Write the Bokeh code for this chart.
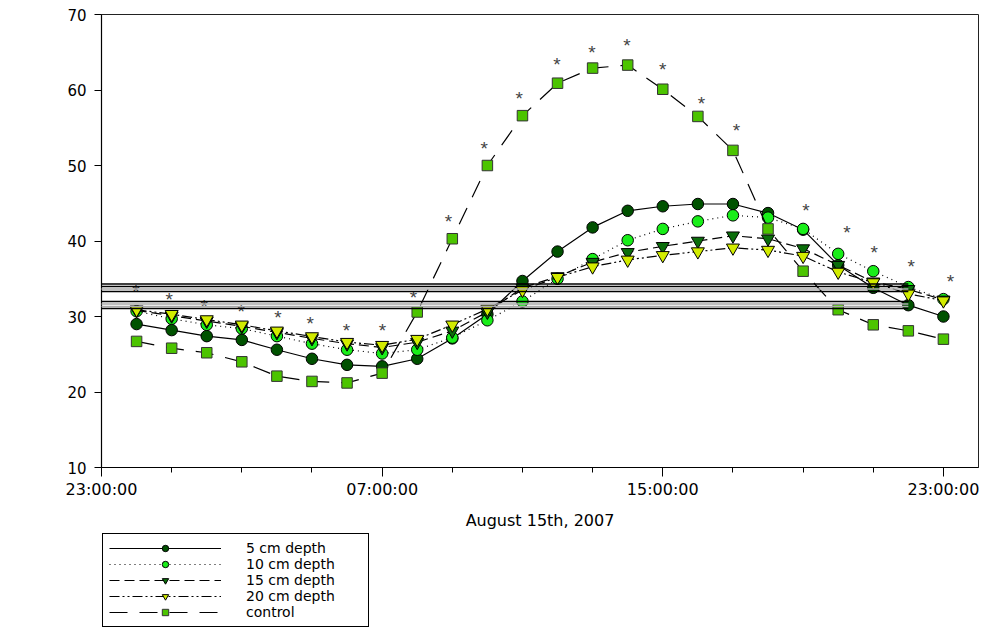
from bokeh.plotting import figure
from bokeh.layouts import column
from bokeh.models import (ColumnDataSource, FixedTicker, Legend, LegendItem, Arrow, Range1d)
from bokeh.core.properties import value
from bokeh.embed import file_html
from bokeh.resources import INLINE

# ---- data (hours after 23:00 of the previous day) ----
hours = list(range(1, 25))
depth5 = [29.0, 28.2, 27.4, 26.9, 25.6, 24.4, 23.6, 23.4, 24.4, 27.1, 30.3, 34.7,
          38.6, 41.8, 44.0, 44.6, 44.9, 44.9, 43.7, 41.5, 36.8, 33.8, 31.5, 30.0]
depth10 = [30.7, 29.7, 28.9, 28.4, 27.4, 26.4, 25.6, 25.1, 25.6, 27.2, 29.5, 32.0,
           35.0, 37.6, 40.1, 41.6, 42.6, 43.4, 43.1, 41.6, 38.3, 36.0, 33.9, 32.3]
depth15 = [30.8, 30.1, 29.4, 28.7, 27.9, 27.1, 26.4, 25.9, 26.6, 28.1, 30.6, 33.8,
           35.3, 37.2, 38.5, 39.3, 40.0, 40.7, 40.3, 39.0, 36.8, 34.6, 33.6, 32.2]
depth20 = [30.9, 30.3, 29.6, 28.9, 28.1, 27.35, 26.6, 26.2, 27.0, 28.9, 31.0, 33.5,
           35.2, 36.6, 37.5, 38.1, 38.6, 39.1, 38.8, 38.0, 35.9, 34.5, 33.0, 32.1]
control = [26.7, 25.8, 25.2, 24.0, 22.1, 21.4, 21.2, 22.5, 30.6, 40.3, 50.0, 56.6,
           60.9, 62.9, 63.3, 60.1, 56.5, 52.0, 41.6, 36.0, 30.9, 28.9, 28.1, 27.0]

star_x = [0.98, 1.93, 2.93, 3.98, 5.03, 5.95, 6.98, 8.01, 8.89, 9.89, 10.91, 11.91,
          12.98, 13.98, 14.98, 16.0, 17.1, 18.1, 20.08, 21.25, 22.03, 23.08, 24.2]
star_y = [33.9, 32.8, 31.9, 31.2, 30.4, 29.6, 28.7, 28.7, 33.1, 43.1, 52.8, 59.4,
          63.9, 65.5, 66.4, 63.2, 58.8, 55.1, 44.6, 41.6, 39.0, 37.2, 35.1]

x_major = [0, 8, 16, 24]
x_labels = ["23:00:00", "07:00:00", "15:00:00", "23:00:00"]
x_minor = [2, 4, 6, 10, 12, 14, 18, 20, 22]
y_ticks = [10, 20, 30, 40, 50, 60, 70]

# scanning artefact lines across the plot
art_y = [34.3, 33.97, 33.64, 33.31, 31.99, 31.66, 31.32, 31.06]
art_color = ["black", "black", "#aaaaaa", "black", "black", "#aaaaaa", "#aaaaaa", "black"]
art_x0 = -2.55
art_x1 = 23.0

series_labels = ["5 cm depth", "10 cm depth", "15 cm depth", "20 cm depth", "control"]

FONT = "DejaVu Sans"

p = figure(frame_width=877, frame_height=453, output_backend="svg", toolbar_location=None,
           x_range=Range1d(0, 25), y_range=Range1d(10, 70),
           min_border_left=101, min_border_right=8, min_border_top=14, min_border_bottom=40)
p.xgrid.visible = False
p.ygrid.visible = False
p.outline_line_color = "#222222"
p.outline_line_width = 1
p.background_fill_color = "white"
p.border_fill_color = "white"

# axes
p.xaxis.ticker = FixedTicker(ticks=x_major, minor_ticks=x_minor)
p.xaxis.major_label_overrides = {t: l for t, l in zip(x_major, x_labels)}
p.yaxis.ticker = FixedTicker(ticks=y_ticks)
for ax in (p.xaxis[0], p.yaxis[0]):
    ax.axis_line_color = "black"
    ax.axis_line_width = 1.2
    ax.major_tick_line_color = "black"
    ax.minor_tick_line_color = "black"
    ax.major_label_text_font = FONT
    ax.major_label_text_font_size = "15px"
    ax.major_label_text_color = "black"
p.xaxis.major_label_text_font_size = "16px"
p.xaxis.major_tick_out = 9
p.xaxis.major_tick_in = 0
p.xaxis.minor_tick_out = 5
p.xaxis.minor_tick_in = 0
p.xaxis.major_label_standoff = 3
p.yaxis.major_tick_out = 7
p.yaxis.major_tick_in = 0
p.yaxis.minor_tick_line_color = None
p.yaxis.major_label_standoff = 8
p.xaxis.axis_label = "August 15th, 2007"
p.xaxis.axis_label_text_font = FONT
p.xaxis.axis_label_text_font_size = "16px"
p.xaxis.axis_label_text_font_style = "normal"
p.xaxis.axis_label_text_color = "black"
p.xaxis.axis_label_standoff = 9

src = ColumnDataSource(dict(x=hours, d5=depth5, d10=depth10, d15=depth15, d20=depth20, c=control))

styles = [
    dict(dash="solid", marker="circle", size=11.5, fill="#005200", mline="black"),
    dict(dash="1 4", marker="circle", size=11.5, fill="#19ee19", mline="black"),
    dict(dash="10 5", marker="inverted_triangle", size=13, fill="#0b6e0b", mline="black"),
    dict(dash="10 3 2 3 2 3", marker="inverted_triangle", size=13, fill="#d2ec00", mline="black"),
    dict(dash="18 12", marker="square", size=10.5, fill="#4cc400", mline="#333333"),
]
cols = ["d5", "d10", "d15", "d20", "c"]

for col, st in zip(cols, styles):
    p.line("x", col, source=src, line_color="black", line_width=1.2, line_dash=st["dash"])
    p.scatter("x", col, source=src, marker=st["marker"], size=st["size"],
              fill_color=st["fill"], line_color=st["mline"], line_width=1)

# significance stars
p.text(x=star_x, y=star_y, text=["*"] * len(star_x), text_font=value("Liberation Sans"),
       text_font_size="19px", text_color="#444444", text_align="center",
       text_baseline="middle", y_offset=4)

# artefact horizontal lines
art_src = ColumnDataSource(dict(x0=[art_x0] * len(art_y), x1=[art_x1] * len(art_y),
                                y=art_y, c=art_color))
p.add_layout(Arrow(end=None, x_start="x0", y_start="y", x_end="x1", y_end="y",
                   line_color="c", line_width=1.4, source=art_src))

# ---- legend panel (separate figure below the chart) ----
# the legend proxies use the same data; this panel's y range lies below the data,
# so only the legend entries are visible
q = figure(frame_width=877, frame_height=110, output_backend="svg", toolbar_location=None,
           x_range=Range1d(0, 25), y_range=Range1d(0, 5),
           x_axis_location=None, y_axis_location=None,
           min_border_left=101, min_border_right=8, min_border_top=0, min_border_bottom=0)
q.xgrid.visible = False
q.ygrid.visible = False
q.outline_line_color = None
q.border_fill_color = "white"

items = []
for lab, col, st in zip(series_labels, cols, styles):
    ln = q.line("x", col, source=src, line_color="black", line_width=1.2, line_dash=st["dash"])
    mk = q.scatter("x", col, source=src, marker=st["marker"], size=st["size"],
                   fill_color=st["fill"], line_color=st["mline"], line_width=1)
    items.append(LegendItem(label=lab, renderers=[ln, mk]))

legend = Legend(items=items, location="top_left", orientation="vertical")
legend.label_text_font = FONT
legend.label_text_font_size = "14px"
legend.label_text_color = "black"
legend.label_height = 16
legend.glyph_height = 16
legend.glyph_width = 112
legend.label_standoff = 25
legend.label_width = 116
legend.spacing = 0
legend.padding = 6
legend.margin = 1
legend.border_line_color = "black"
legend.border_line_width = 1
legend.border_line_alpha = 1
legend.background_fill_alpha = 1
q.add_layout(legend)

layout = column(p, q, spacing=0)
open("out.html", "w").write(file_html(layout, INLINE))
